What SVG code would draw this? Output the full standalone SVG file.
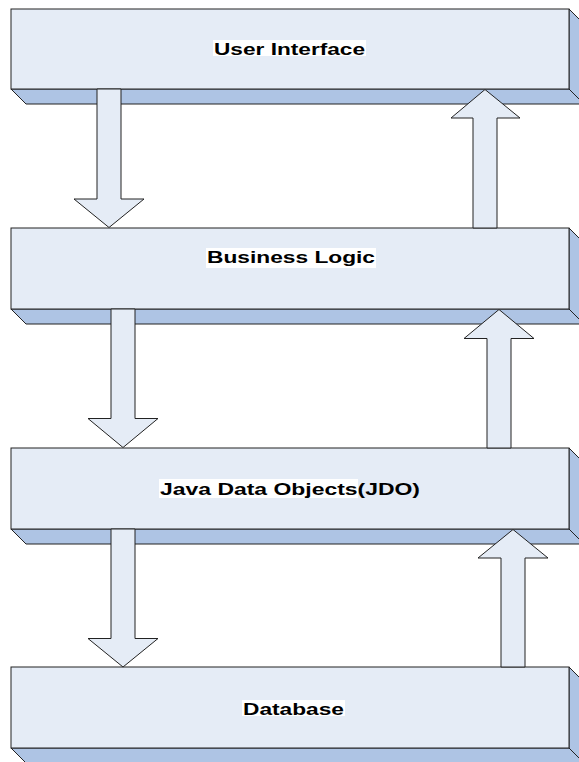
<svg xmlns="http://www.w3.org/2000/svg" width="579" height="762" viewBox="0 0 579 762">
  <style>
    .front { fill: #E5ECF6; stroke: #222; stroke-width: 1; }
    .depth { fill: #AEC4E4; stroke: #222; stroke-width: 1; stroke-linejoin: miter; }
    .arrow { fill: #E5ECF6; stroke: #222; stroke-width: 1; stroke-linejoin: miter; }
    .hl { fill: #FFFFFF; }
    .label { font-family: "Liberation Sans", Arial, sans-serif; font-weight: bold; font-size: 17px; fill: #000; }
  </style>
  <rect width="579" height="762" fill="#FFFFFF"/>

  <!-- layer 1 -->
  <g id="user-interface">
    <polygon class="depth" points="11,89 569,89 584,104 26,104"/>
    <polygon class="depth" points="569,9 584,24 584,104 569,89"/>
    <rect class="front" x="11" y="9" width="558" height="80"/>
    <rect class="hl" x="213" y="40" width="153" height="16"/>
    <text class="label" x="214" y="55" textLength="151" lengthAdjust="spacingAndGlyphs">User Interface</text>
  </g>

  <!-- layer 2 -->
  <g id="business-logic">
    <polygon class="depth" points="11,309 569,309 584,324 26,324"/>
    <polygon class="depth" points="569,228 584,243 584,324 569,309"/>
    <rect class="front" x="11" y="228" width="558" height="81"/>
    <rect class="hl" x="206" y="248" width="170" height="20"/>
    <text class="label" x="207" y="263" textLength="168" lengthAdjust="spacingAndGlyphs">Business Logic</text>
  </g>

  <!-- layer 3 -->
  <g id="jdo">
    <polygon class="depth" points="11,529 569,529 584,544 26,544"/>
    <polygon class="depth" points="569,448 584,463 584,544 569,529"/>
    <rect class="front" x="11" y="448" width="558" height="81"/>
    <rect class="hl" x="159" y="479" width="199" height="19"/>
    <text class="label" x="160" y="495" textLength="260" lengthAdjust="spacingAndGlyphs">Java Data Objects(JDO)</text>
  </g>

  <!-- layer 4 -->
  <g id="database">
    <polygon class="depth" points="11,748 569,748 584,763 26,763"/>
    <polygon class="depth" points="569,667 584,682 584,763 569,748"/>
    <rect class="front" x="11" y="667" width="558" height="81"/>
    <rect class="hl" x="242" y="700" width="103" height="16"/>
    <text class="label" x="243" y="714.5" textLength="101" lengthAdjust="spacingAndGlyphs">Database</text>
  </g>

  <!-- block arrows between layers -->
  <g id="connectors">
    <polygon class="arrow" points="97,89 121,89 121,199 144,199 109,227.5 74,199 97,199"/>
    <polygon class="arrow" points="485,89.5 520,118 497,118 497,228 473,228 473,118 451,118"/>
    <polygon class="arrow" points="111,309 135,309 135,418.5 158,418.5 123,447.5 88,418.5 111,418.5"/>
    <polygon class="arrow" points="499,309.5 534,338.5 511,338.5 511,448 487,448 487,338.5 464,338.5"/>
    <polygon class="arrow" points="111,529 135,529 135,638.5 158,638.5 123,667 88,638.5 111,638.5"/>
    <polygon class="arrow" points="513,529.5 548,558 525,558 525,667 501,667 501,558 478,558"/>
  </g>
</svg>
